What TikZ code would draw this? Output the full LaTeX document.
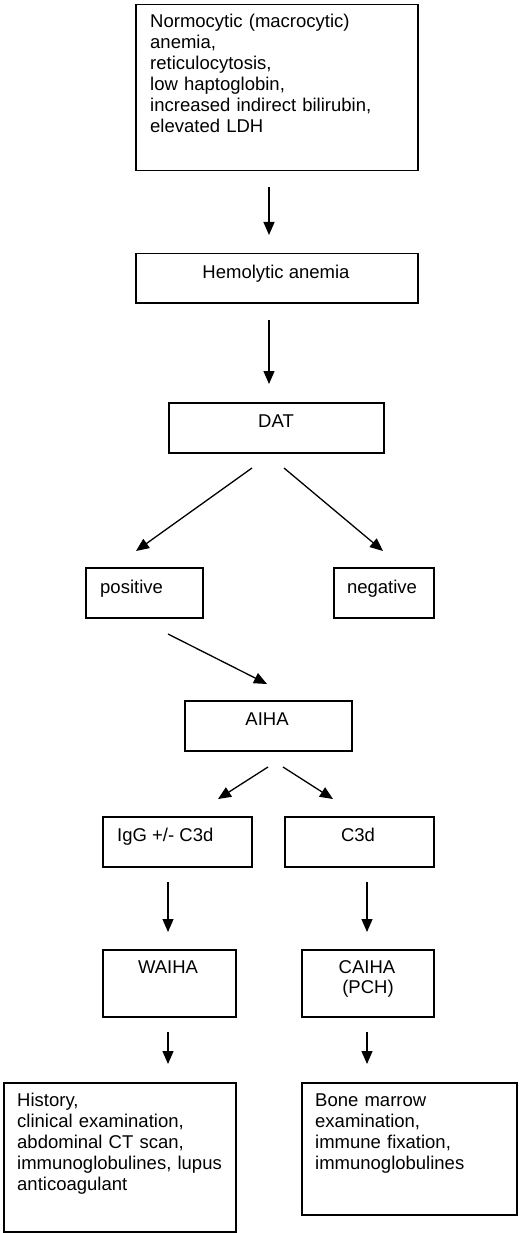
\documentclass[tikz,border=0pt]{standalone}
\usepackage{fontspec}
\setmainfont{Liberation Sans}
\usetikzlibrary{arrows.meta}
\begin{document}
\begin{tikzpicture}[x=1pt,y=-1pt,
  box/.style={draw=black,line width=1.5pt,rectangle,inner sep=0pt,anchor=north west},
  txt/.style={inner sep=0pt,font=\fontsize{18.5}{21}\selectfont},
  ltxt/.style={txt,anchor=base west,align=left,text width=#1},
  ctxt/.style={txt,anchor=base},
  arr/.style={line width=1.3pt,-{Triangle[length=13pt,width=11pt]}}]
\useasboundingbox (0,0) rectangle (520,1233);
% boxes
\node[box,minimum width=282pt,minimum height=166pt] (b1) at (135,4) {};
\node[box,minimum width=282pt,minimum height=49pt] (b2) at (135,253) {};
\node[box,minimum width=215pt,minimum height=50pt] (b3) at (168,402) {};
\node[box,minimum width=117pt,minimum height=50pt] (b4) at (85,567) {};
\node[box,minimum width=100pt,minimum height=50pt] (b5) at (333,567) {};
\node[box,minimum width=167pt,minimum height=50pt] (b6) at (184,700) {};
\node[box,minimum width=149pt,minimum height=50pt] (b7) at (102,816) {};
\node[box,minimum width=149pt,minimum height=50pt] (b8) at (284,816) {};
\node[box,minimum width=133pt,minimum height=67pt] (b9) at (102,949) {};
\node[box,minimum width=132pt,minimum height=67pt] (b10) at (301,949) {};
\node[box,minimum width=232pt,minimum height=149pt] (b11) at (3,1082) {};
\node[box,minimum width=215pt,minimum height=132pt] (b12) at (301,1082) {};
% texts
\node[ltxt=265pt] (t1) at (150,28) {Normocytic (macrocytic)\\anemia,\\reticulocytosis,\\low haptoglobin,\\increased indirect bilirubin,\\elevated LDH};
\node[ctxt] (t2) at (276,278) {Hemolytic anemia};
\node[ctxt] (t3) at (276,427) {DAT};
\node[txt,anchor=base west] (t4) at (100,593) {positive};
\node[ctxt] (t5) at (382,593) {negative};
\node[ctxt] (t6) at (267,725) {AIHA};
\node[txt,anchor=base west] (t7) at (117,841) {IgG +/- C3d};
\node[ctxt] (t8) at (358,841) {C3d};
\node[ctxt] (t9) at (168,973) {WAIHA};
\node[ctxt] (t10) at (367,973) {CAIHA};
\node[ctxt] (t10b) at (368,993) {(PCH)};
\node[ltxt=218pt] (t11) at (17,1106) {History,\\clinical examination,\\abdominal CT scan,\\immunoglobulines, lupus\\anticoagulant};
\node[ltxt=198pt] (t12) at (315,1106) {Bone marrow\\examination,\\immune fixation,\\immunoglobulines};
% arrow end points
\coordinate (a1s) at (269,187); \coordinate (a1e) at (269,235);
\coordinate (a2s) at (269,320); \coordinate (a2e) at (269,384);
\coordinate (a3s) at (252,468); \coordinate (a3e) at (136,551);
\coordinate (a4s) at (284,468); \coordinate (a4e) at (383,551);
\coordinate (a5s) at (168,634); \coordinate (a5e) at (267,684);
\coordinate (a6s) at (268,767); \coordinate (a6e) at (218,799);
\coordinate (a7s) at (283,767); \coordinate (a7e) at (333,799);
\coordinate (a8s) at (168,882); \coordinate (a8e) at (168,932);
\coordinate (a9s) at (367,882); \coordinate (a9e) at (367,932);
\coordinate (a10s) at (168,1032); \coordinate (a10e) at (168,1064);
\coordinate (a11s) at (367,1032); \coordinate (a11e) at (367,1064);
\foreach \i in {1,...,11} {\draw[arr] (a\i s) -- (a\i e);}
\end{tikzpicture}
\end{document}
